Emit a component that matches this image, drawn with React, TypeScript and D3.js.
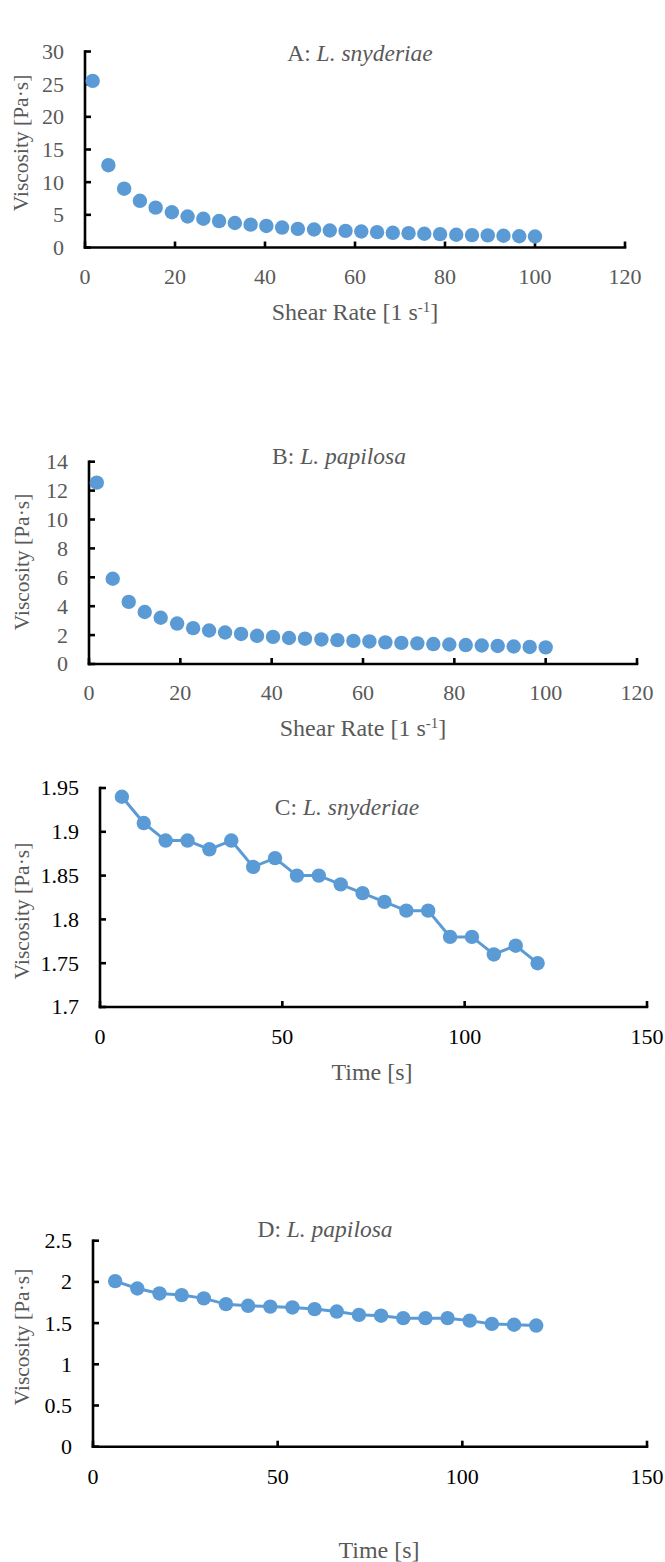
import React from "react";
import * as d3 from "d3";

// ---------- DATA ----------
const shearRate = [1.7, 5.2, 8.7, 12.2, 15.7, 19.3, 22.8, 26.3, 29.8, 33.3, 36.8, 40.3, 43.8, 47.3, 50.9, 54.4, 57.9, 61.4, 64.9, 68.4, 71.9, 75.4, 78.9, 82.5, 86.0, 89.5, 93.0, 96.5, 100.0];
const viscA = [25.5, 12.6, 9.0, 7.15, 6.1, 5.4, 4.75, 4.4, 4.05, 3.75, 3.5, 3.3, 3.05, 2.85, 2.75, 2.6, 2.55, 2.45, 2.35, 2.25, 2.2, 2.1, 2.05, 1.95, 1.9, 1.85, 1.8, 1.72, 1.68];
const viscB = [12.55, 5.9, 4.3, 3.6, 3.2, 2.8, 2.48, 2.32, 2.18, 2.08, 1.95, 1.88, 1.8, 1.75, 1.7, 1.65, 1.6, 1.56, 1.5, 1.46, 1.43, 1.38, 1.35, 1.31, 1.28, 1.25, 1.21, 1.18, 1.15];
const time = [6, 12, 18, 24, 30, 36, 42, 48, 54, 60, 66, 72, 78, 84, 90, 96, 102, 108, 114, 120];
const viscC = [1.94, 1.91, 1.89, 1.89, 1.88, 1.89, 1.86, 1.87, 1.85, 1.85, 1.84, 1.83, 1.82, 1.81, 1.81, 1.78, 1.78, 1.76, 1.77, 1.75];
const viscD = [2.01, 1.92, 1.86, 1.84, 1.8, 1.73, 1.71, 1.7, 1.69, 1.67, 1.64, 1.6, 1.59, 1.56, 1.56, 1.56, 1.53, 1.49, 1.48, 1.47];

const xTicksShear = [0, 20, 40, 60, 80, 100, 120];
const yTicksA = [0, 5, 10, 15, 20, 25, 30];
const yTicksB = [0, 2, 4, 6, 8, 10, 12, 14];
const xTicksTime = [0, 50, 100, 150];
const yTicksC = [1.7, 1.75, 1.8, 1.85, 1.9, 1.95];
const yTicksD = [0, 0.5, 1, 1.5, 2, 2.5];

const titleLetters = ["A:", "B:", "C:", "D: "];
const titleSpecies = ["L. snyderiae", "L. papilosa", "L. snyderiae", "L. papilosa"];
const yTitle = "Viscosity [Pa·s]";

// ---------- STYLE / LAYOUT ----------
const BLUE = "#5B9BD5";
const GRAY = "#595959";
const FONT = "'Liberation Serif', 'Times New Roman', serif";

type Panel = {
  x: number[]; y: number[]; xTicks: number[]; yTicks: number[];
  xr: [number, number]; yr: [number, number];
  title: number; titleX: number; titleY: number;
  xTitle: "shear" | "time"; xTitleX: number; xTitleY: number;
  yTitleX: number; yTitleY: number;
  tickColor: string; line: boolean; tickLabelY: number;
};

const panels: Panel[] = [
  { x: shearRate, y: viscA, xTicks: xTicksShear, yTicks: yTicksA, xr: [85, 625], yr: [247.5, 51.5],
    title: 0, titleX: 360, titleY: 61, xTitle: "shear", xTitleX: 355, xTitleY: 320,
    yTitleX: 21, yTitleY: 143, tickColor: GRAY, line: false, tickLabelY: 277 },
  { x: shearRate, y: viscB, xTicks: xTicksShear, yTicks: yTicksB, xr: [89, 637], yr: [664, 461.7],
    title: 1, titleX: 339, titleY: 464, xTitle: "shear", xTitleX: 363, xTitleY: 736,
    yTitleX: 22, yTitleY: 562, tickColor: GRAY, line: false, tickLabelY: 693 },
  { x: time, y: viscC, xTicks: xTicksTime, yTicks: yTicksC, xr: [100, 647], yr: [1007, 788],
    title: 2, titleX: 347, titleY: 815, xTitle: "time", xTitleX: 372, xTitleY: 1080,
    yTitleX: 22, yTitleY: 911, tickColor: "#000", line: true, tickLabelY: 1037 },
  { x: time, y: viscD, xTicks: xTicksTime, yTicks: yTicksD, xr: [93, 647], yr: [1446.7, 1240.7],
    title: 3, titleX: 325, titleY: 1237, xTitle: "time", xTitleX: 379, xTitleY: 1558,
    yTitleX: 22, yTitleY: 1337, tickColor: "#000", line: true, tickLabelY: 1477 },
];

function ChartPanel({ p }: { p: Panel }) {
  const xs = d3.scaleLinear().domain([p.xTicks[0], p.xTicks[p.xTicks.length - 1]]).range(p.xr);
  const ys = d3.scaleLinear().domain([p.yTicks[0], p.yTicks[p.yTicks.length - 1]]).range(p.yr);
  const pts = p.x.map((v, i) => [v, p.y[i]] as [number, number]);
  const lineGen = d3.line<[number, number]>().x((d) => xs(d[0])).y((d) => ys(d[1]));
  const x0 = p.xr[0];
  const y0 = p.yr[0];
  return (
    <g>
      <line x1={x0} x2={x0} y1={p.yr[1]} y2={y0} stroke="#000" strokeWidth={2.6} strokeLinecap="square" />
      <line x1={x0} x2={p.xr[1]} y1={y0} y2={y0} stroke="#000" strokeWidth={2.6} strokeLinecap="square" />
      {p.yTicks.map((t) => (
        <g key={"y" + t}>
          <line x1={x0} x2={x0 + 6} y1={ys(t)} y2={ys(t)} stroke="#000" strokeWidth={2.6} />
          <text x={x0 - 21} y={ys(t)} dy="0.34em" textAnchor="end" fontSize={22} fill={p.tickColor}>{String(t)}</text>
        </g>
      ))}
      {p.xTicks.map((t) => (
        <g key={"x" + t}>
          <line x1={xs(t)} x2={xs(t)} y1={y0} y2={y0 - 6} stroke="#000" strokeWidth={2.6} />
          <text x={xs(t)} y={p.tickLabelY} dy="0.34em" textAnchor="middle" fontSize={22} fill={p.tickColor}>{String(t)}</text>
        </g>
      ))}
      {p.line && <path d={lineGen(pts) || ""} fill="none" stroke={BLUE} strokeWidth={3} strokeLinejoin="round" />}
      {pts.map((d, i) => (
        <circle key={i} cx={xs(d[0])} cy={ys(d[1])} r={7.2} fill={BLUE} />
      ))}
      <text x={p.titleX} y={p.titleY} textAnchor="middle" fontSize={23.5} fill={GRAY}>
        {titleLetters[p.title] + " "}
        <tspan fontStyle="italic">{titleSpecies[p.title]}</tspan>
      </text>
      <text transform={`translate(${p.yTitleX},${p.yTitleY}) rotate(-90)`} dy="0.34em" textAnchor="middle" fontSize={21.5} fill={GRAY}>
        {yTitle}
      </text>
      {p.xTitle === "shear" ? (
        <text x={p.xTitleX} y={p.xTitleY} textAnchor="middle" fontSize={24} fill={GRAY}>
          Shear Rate [1 s<tspan baselineShift="super" fontSize={15}>-1</tspan>]
        </text>
      ) : (
        <text x={p.xTitleX} y={p.xTitleY} textAnchor="middle" fontSize={24} fill={GRAY}>Time [s]</text>
      )}
    </g>
  );
}

export default function App() {
  return (
    <svg width={665} height={1562} style={{ position: "absolute", left: 0, top: 0, background: "#fff" }} fontFamily={FONT}>
      <rect x={0} y={0} width={665} height={1562} fill="#fff" />
      {panels.map((p, i) => (
        <ChartPanel key={i} p={p} />
      ))}
    </svg>
  );
}
